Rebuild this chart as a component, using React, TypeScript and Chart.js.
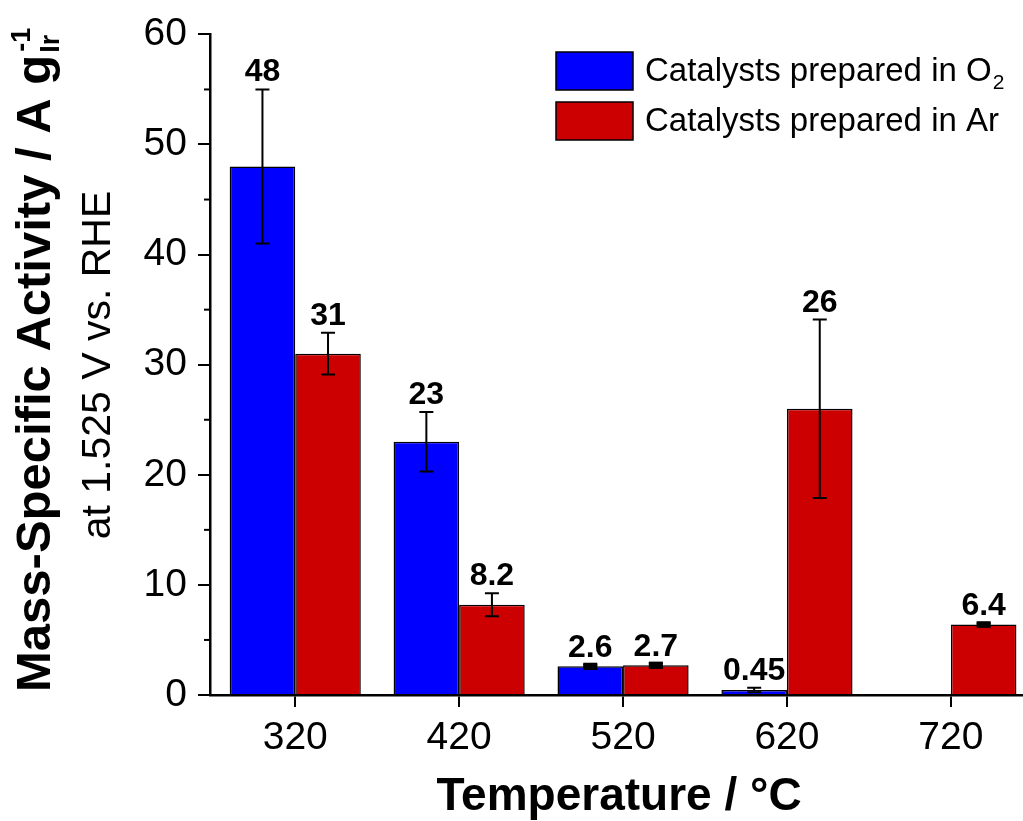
import React, { useEffect, useRef } from "react";
import { Chart, registerables } from "chart.js";

Chart.register(...registerables);

// ---- data ----
const temperatures = [320, 420, 520, 620, 720];
const o2Values: (number | null)[] = [48, 23, 2.6, 0.45, null];
const o2Errors: (number | null)[] = [7.0, 2.7, 0.15, 0.2, null];
const arValues: (number | null)[] = [31, 8.2, 2.7, 26, 6.4];
const arErrors: (number | null)[] = [1.9, 1.05, 0.15, 8.1, 0.12];
const o2LabelTexts = ["48", "23", "2.6", "0.45", ""];
const arLabelTexts = ["31", "8.2", "2.7", "26", "6.4"];
const yMajorTicks = [0, 10, 20, 30, 40, 50, 60];
const yMinorTicks = [5, 15, 25, 35, 45, 55];
const legendMain = ["Catalysts prepared in O", "Catalysts prepared in Ar"];
const legendSub = ["2", ""];
const seriesColors = ["#0000FF", "#CC0000"];
const yTitleMain = "Mass-Specific Activity / A g";
const yTitleSub = "Ir";
const yTitleSup = "-1";
const yTitleLine2 = "at 1.525 V vs. RHE";
const xTitle = "Temperature / \u00B0C";

const FONT = '"Liberation Sans", Arial, Helvetica, sans-serif';

const overlayPlugin = {
  id: "overlay",
  beforeDraw(chart: any) {
    const ctx = chart.ctx;
    ctx.save();
    ctx.fillStyle = "#ffffff";
    ctx.fillRect(0, 0, chart.width, chart.height);
    ctx.restore();
  },
  afterDatasetsDraw(chart: any) {
    const ctx = chart.ctx;
    const yScale = chart.scales.y;
    const series = [
      { vals: o2Values, errs: o2Errors, labels: o2LabelTexts },
      { vals: arValues, errs: arErrors, labels: arLabelTexts },
    ];
    ctx.save();
    series.forEach((s, di) => {
      const meta = chart.getDatasetMeta(di);
      meta.data.forEach((el: any, i: number) => {
        const v = s.vals[i];
        const e = s.errs[i];
        if (v === null || v === undefined) return;
        const x = el.x;
        const top = yScale.getPixelForValue(v + (e || 0));
        const bot = yScale.getPixelForValue(v - (e || 0));
        ctx.strokeStyle = "#000";
        ctx.lineWidth = 2;
        ctx.beginPath();
        ctx.moveTo(x, top);
        ctx.lineTo(x, bot);
        ctx.moveTo(x - 7, top);
        ctx.lineTo(x + 7, top);
        ctx.moveTo(x - 7, bot);
        ctx.lineTo(x + 7, bot);
        ctx.stroke();
        if (e !== null && e !== undefined && Math.abs(bot - top) < 4) {
          ctx.fillStyle = "#000";
          ctx.fillRect(x - 7, top - 2, 14, bot - top + 4);
        }
        const lbl = s.labels[i];
        if (lbl) {
          ctx.fillStyle = "#000";
          ctx.font = `bold 32px ${FONT}`;
          ctx.textAlign = "center";
          ctx.textBaseline = "alphabetic";
          ctx.fillText(lbl, x, top - 8);
        }
      });
    });
    ctx.restore();
  },
  afterDraw(chart: any) {
    const ctx = chart.ctx;
    const yScale = chart.scales.y;
    const left = chart.chartArea.left;
    ctx.save();
    // minor y ticks
    ctx.strokeStyle = "#000";
    ctx.lineWidth = 2;
    yMinorTicks.forEach((v) => {
      const py = yScale.getPixelForValue(v);
      ctx.beginPath();
      ctx.moveTo(left - 6, py);
      ctx.lineTo(left, py);
      ctx.stroke();
    });

    // legend
    const boxX = 556;
    const boxW = 77;
    const boxH = 38;
    const boxYs = [52, 102];
    boxYs.forEach((by, i) => {
      ctx.fillStyle = seriesColors[i];
      ctx.fillRect(boxX, by, boxW, boxH);
      ctx.strokeStyle = "#000";
      ctx.lineWidth = 1.5;
      ctx.strokeRect(boxX, by, boxW, boxH);
      ctx.fillStyle = "#000";
      ctx.font = `33px ${FONT}`;
      ctx.textAlign = "left";
      ctx.textBaseline = "middle";
      const ty = by + boxH / 2 + 1;
      ctx.fillText(legendMain[i], 645, ty);
      if (legendSub[i]) {
        const w = ctx.measureText(legendMain[i]).width;
        ctx.font = `21px ${FONT}`;
        ctx.fillText(legendSub[i], 645 + w + 1, ty + 11);
      }
    });

    // y title line 1
    ctx.save();
    ctx.translate(50, 692);
    ctx.rotate(-Math.PI / 2);
    ctx.fillStyle = "#000";
    ctx.font = `bold 49px ${FONT}`;
    ctx.textAlign = "left";
    ctx.textBaseline = "alphabetic";
    ctx.fillText(yTitleMain, 0, 0);
    const w1 = ctx.measureText(yTitleMain).width;
    ctx.font = `bold 27px ${FONT}`;
    ctx.fillText(yTitleSub, w1 + 2, 9);
    ctx.fillText(yTitleSup, w1 + 3, -20);
    ctx.restore();

    // y title line 2
    ctx.save();
    ctx.translate(110, 365);
    ctx.rotate(-Math.PI / 2);
    ctx.fillStyle = "#000";
    ctx.font = `41px ${FONT}`;
    ctx.textAlign = "center";
    ctx.textBaseline = "alphabetic";
    ctx.fillText(yTitleLine2, 0, 0);
    ctx.restore();

    // x title
    ctx.fillStyle = "#000";
    ctx.font = `bold 46px ${FONT}`;
    ctx.textAlign = "center";
    ctx.textBaseline = "alphabetic";
    ctx.fillText(xTitle, 619, 810);

    ctx.restore();
  },
};

export default function App() {
  const canvasRef = useRef<HTMLCanvasElement | null>(null);

  useEffect(() => {
    if (!canvasRef.current) return;
    const chart = new Chart(canvasRef.current, {
      type: "bar",
      data: {
        datasets: [
          {
            label: legendMain[0] + legendSub[0],
            data: temperatures.map((t, i) => ({ x: t, y: o2Values[i] })) as any,
            backgroundColor: seriesColors[0],
            borderColor: "#000",
            borderWidth: 1.5,
          },
          {
            label: legendMain[1] + legendSub[1],
            data: temperatures.map((t, i) => ({ x: t, y: arValues[i] })) as any,
            backgroundColor: seriesColors[1],
            borderColor: "#000",
            borderWidth: 1.5,
          },
        ],
      },
      options: {
        animation: false,
        responsive: false,
        maintainAspectRatio: false,
        devicePixelRatio: 1,
        layout: { padding: { top: 32, right: 0, bottom: 0, left: 0 } },
        datasets: {
          bar: { categoryPercentage: 0.8, barPercentage: 1.0 },
        } as any,
        plugins: {
          legend: { display: false },
          tooltip: { enabled: false },
          title: { display: false },
        },
        scales: {
          x: {
            type: "linear",
            min: 268,
            max: 764,
            offset: false,
            afterBuildTicks: (scale: any) => {
              scale.ticks = temperatures.map((v) => ({ value: v }));
            },
            afterFit: (scale: any) => {
              scale.height = 126;
            },
            grid: {
              offset: false,
              drawOnChartArea: false,
              drawTicks: true,
              tickLength: 12,
              color: "#000",
              lineWidth: 2,
            },
            border: { display: true, color: "#000", width: 2.5 },
            ticks: {
              color: "#000",
              font: { family: FONT, size: 39 },
              padding: 8,
              maxRotation: 0,
              autoSkip: false,
              callback: (v: any) => String(v),
            },
          } as any,
          y: {
            type: "linear",
            min: 0,
            max: 60,
            afterBuildTicks: (scale: any) => {
              scale.ticks = yMajorTicks.map((v) => ({ value: v }));
            },
            afterFit: (scale: any) => {
              scale.width = 210;
            },
            grid: {
              drawOnChartArea: false,
              drawTicks: true,
              tickLength: 12,
              color: "#000",
              lineWidth: 2,
            },
            border: { display: true, color: "#000", width: 2.5 },
            ticks: {
              color: "#000",
              font: { family: FONT, size: 39 },
              padding: 11,
              callback: (v: any) => String(v),
            },
          } as any,
        },
      },
      plugins: [overlayPlugin],
    });
    return () => chart.destroy();
  }, []);

  return (
    <div style={{ position: "fixed", left: 0, top: 0, width: 1023, height: 821, background: "#fff" }}>
      <canvas ref={canvasRef} width={1023} height={821} style={{ display: "block", width: 1023, height: 821 }} />
    </div>
  );
}
